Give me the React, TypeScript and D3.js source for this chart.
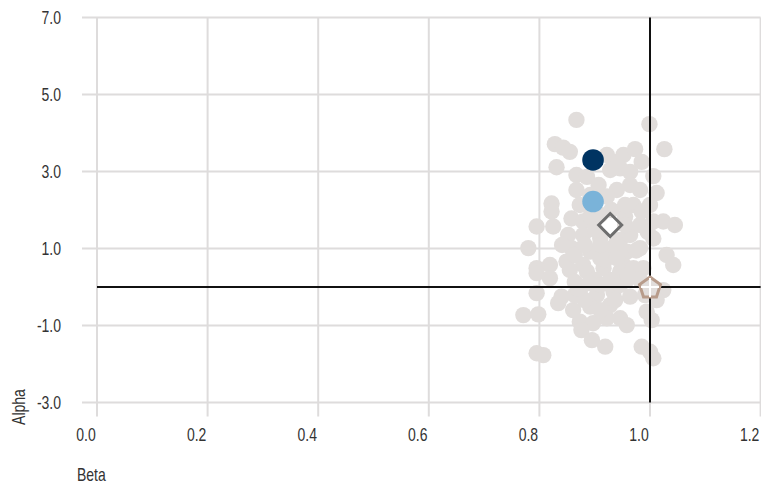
import React from "react";
import * as d3 from "d3";

const W = 761;
const H = 485;

const xTicks = [0, 0.2, 0.4, 0.6, 0.8, 1.0, 1.2];
const yTicks = [-3, -1, 1, 3, 5, 7];

// Peer fund scatter: [beta, alpha]
const peerBeta = [
  0.867, 0.999, 0.828, 0.843, 0.855, 1.026, 0.831, 0.922, 0.934, 0.952,
  0.973, 0.985, 0.946, 0.964, 0.928, 0.867, 0.886, 1.006, 0.867, 0.907,
  0.964, 0.94, 1.012, 0.822, 0.822, 0.922, 0.97, 0.985, 0.955, 0.795,
  0.825, 0.858, 0.879, 0.892, 0.852, 0.879, 0.91, 0.946, 0.964, 0.982,
  1.006, 1.024, 1.045, 1.006, 0.78, 0.819, 0.858, 0.892, 0.928, 0.958,
  0.982, 1.03, 1.042, 0.849, 0.879, 0.916, 0.952, 0.988, 0.795, 0.795,
  0.819, 0.855, 0.886, 0.946, 0.97, 1.024, 0.795, 0.84, 0.834, 0.873,
  0.904, 0.934, 0.964, 1.012, 0.771, 0.798, 0.861, 0.892, 0.928, 0.946,
  0.958, 0.922, 0.873, 0.897, 0.994, 1.003, 0.876, 0.895, 0.919, 0.795,
  0.807, 0.985, 1.0, 1.006, 0.901, 0.91, 0.93, 0.901, 0.937, 0.864,
  0.91, 0.901, 0.928, 0.864, 0.91, 0.982, 0.991, 0.996, 0.841, 0.958,
  0.892, 0.982, 1.0, 0.864, 0.91, 0.946, 0.882, 0.937, 0.91, 0.919,
  0.882, 0.955, 0.955, 0.873, 0.87, 0.94, 0.96, 0.89, 0.975,
];
const peerAlpha = [
  4.34, 4.23, 3.71, 3.62, 3.51, 3.58, 3.11, 3.43, 3.25, 3.43,
  3.58, 3.25, 3.08, 2.99, 3.04, 2.91, 2.86, 2.88, 2.52, 2.65,
  2.65, 2.52, 2.44, 2.17, 1.96, 2.35, 2.13, 1.96, 1.83, 1.57,
  1.57, 1.78, 1.7, 1.83, 1.35, 1.35, 1.26, 1.22, 1.35, 1.61,
  1.7, 1.7, 1.61, 1.26, 1.01, 0.57, 1.01, 0.92, 0.83, 0.92,
  1.01, 0.83, 0.57, 0.66, 0.57, 0.49, 0.57, 0.49, 0.49, 0.36,
  0.23, 0.44, 0.4, 0.4, 0.49, -0.08, -0.16, -0.25, -0.42, -0.12,
  -0.21, -0.12, -0.25, -0.34, -0.73, -0.71, -0.6, -0.51, -0.47, -0.81,
  -0.99, -0.81, -0.9, -0.94, -0.64, -0.86, -1.12, -1.38, -1.55, -1.72,
  -1.77, -1.55, -1.68, -1.85, 2.26, 1.87, 2.0, 1.48, 1.09, 0.83,
  0.75, 0.18, 0.18, 0.13, -0.6, 0.18, -0.21, 1.43, 1.09, 0.18,
  2.39, 2.52, 2.13, -0.21, 0.05, 0.05, -0.34, -0.34, 1.09, 0.7,
  1.09, 1.61, 2.13, 2.13, -0.05, 0.75, 0.3, 0.1, 0.95,
];

// Highlighted series
const fundBeta = [0.897];
const fundAlpha = [3.3];
const shareBeta = [0.897];
const shareAlpha = [2.22];
const indexBeta = [0.928];
const indexAlpha = [1.61];
const benchBeta = [1.0];
const benchAlpha = [0.0];

const FONT = "'Liberation Sans', Arial, sans-serif";
const SX = 0.8;
const FS = 17.5;

function NText(props: {
  x: number;
  y: number;
  anchor?: "start" | "middle" | "end";
  rotate?: number;
  children: React.ReactNode;
}) {
  const { x, y, anchor = "start", rotate = 0, children } = props;
  return (
    <g transform={`translate(${x},${y}) rotate(${rotate}) scale(${SX},1)`}>
      <text textAnchor={anchor} fontSize={FS} fill="#333" fontFamily={FONT}>
        {children}
      </text>
    </g>
  );
}

export default function App() {
  const x = d3.scaleLinear().domain([0, 1.2]).range([97, 760.6]);
  const y = d3.scaleLinear().domain([-3, 7]).range([402.5, 17.5]);

  const grid = "#dedcdc";
  const peerColor = "#e1dddb";

  const pentagon = (cx: number, cy: number, r: number) =>
    d3.range(5)
      .map((k) => {
        const a = ((-90 + k * 72) * Math.PI) / 180;
        return `${cx + r * Math.cos(a)},${cy + r * Math.sin(a)}`;
      })
      .join(" ");

  const bx = x(benchBeta[0]);
  const by = y(benchAlpha[0]);

  return (
    <svg
      width={W}
      height={H}
      style={{ position: "absolute", left: 0, top: 0, background: "#fff" }}
    >
      {/* grid */}
      {xTicks.map((t) => (
        <line
          key={"gx" + t}
          x1={x(t)}
          x2={x(t)}
          y1={y(7)}
          y2={y(-3) + 14}
          stroke={grid}
          strokeWidth={2}
        />
      ))}
      {yTicks.map((t) => (
        <line
          key={"gy" + t}
          x1={x(0) - 15}
          x2={x(1.2)}
          y1={y(t)}
          y2={y(t)}
          stroke={grid}
          strokeWidth={2}
        />
      ))}

      {/* peers */}
      {peerBeta.map((b, i) => (
        <circle key={"p" + i} cx={x(b)} cy={y(peerAlpha[i])} r={8.2} fill={peerColor} />
      ))}

      {/* reference lines */}
      <line x1={x(0)} x2={x(1.2)} y1={y(0)} y2={y(0)} stroke="#111" strokeWidth={2} />
      <line x1={x(1)} x2={x(1)} y1={y(7)} y2={y(-3)} stroke="#111" strokeWidth={2} />

      {/* benchmark pentagon */}
      <polygon
        points={pentagon(bx, by + 1, 11)}
        fill={peerColor}
        stroke="#b89c8b"
        strokeWidth={3}
      />
      <line x1={bx - 9} x2={bx + 9} y1={by} y2={by} stroke="#fff" strokeWidth={2} />
      <line x1={bx} x2={bx} y1={by - 9} y2={by + 10} stroke="#fff" strokeWidth={2} />

      {/* index diamond */}
      {indexBeta.map((b, i) => {
        const cx = x(b);
        const cy = y(indexAlpha[i]);
        const s = 11.5;
        return (
          <polygon
            key={"d" + i}
            points={`${cx},${cy - s} ${cx + s},${cy} ${cx},${cy + s} ${cx - s},${cy}`}
            fill="none"
            stroke="#6e6e6e"
            strokeWidth={3}
          />
        );
      })}

      {/* share class */}
      {shareBeta.map((b, i) => (
        <circle key={"s" + i} cx={x(b)} cy={y(shareAlpha[i])} r={10.8} fill="#7ab3d9" />
      ))}
      {/* fund */}
      {fundBeta.map((b, i) => (
        <circle key={"f" + i} cx={x(b)} cy={y(fundAlpha[i])} r={10.8} fill="#003462" />
      ))}

      {/* y tick labels */}
      {yTicks.map((t) => (
        <NText key={"yl" + t} x={61} y={y(t) + 6} anchor="end">
          {t.toFixed(1)}
        </NText>
      ))}
      {/* x tick labels */}
      {xTicks.map((t) => (
        <NText key={"xl" + t} x={x(t) - 11} y={441} anchor="middle">
          {t.toFixed(1)}
        </NText>
      ))}

      {/* axis titles */}
      <NText x={77} y={481}>Beta</NText>
      <NText x={25} y={407} anchor="middle" rotate={-90}>
        Alpha
      </NText>
    </svg>
  );
}
